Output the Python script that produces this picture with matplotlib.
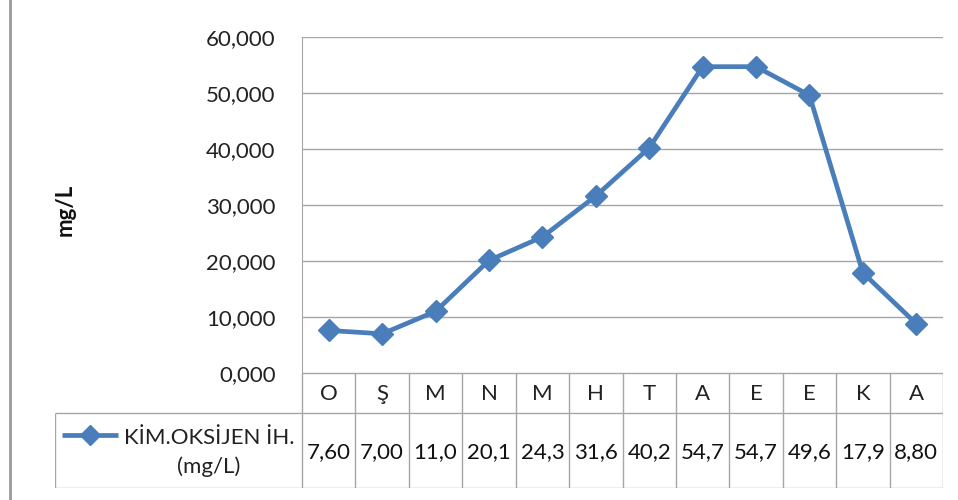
import matplotlib
matplotlib.use("Agg")
import matplotlib.pyplot as plt
from matplotlib.lines import Line2D

plt.rcParams['font.family'] = ['Lato', 'DejaVu Sans']

months = ["O", "Ş", "M", "N", "M", "H", "T", "A", "E", "E", "K", "A"]
values = [7.6, 7.0, 11.0, 20.1, 24.3, 31.6, 40.2, 54.7, 54.7, 49.6, 17.9, 8.8]
table_labels = ["7,60", "7,00", "11,0", "20,1", "24,3", "31,6", "40,2", "54,7", "54,7", "49,6", "17,9", "8,80"]
yticks = [0, 10, 20, 30, 40, 50, 60]
ytick_labels = ["0,000", "10,000", "20,000", "30,000", "40,000", "50,000", "60,000"]
series_name = "KİM.OKSİJEN İH.\n(mg/L)"
ylabel = "mg/L"

W, H = 958, 500
BLUE = "#4a7ebb"
GRID = "#a6a6a6"
FS = 16
fig = plt.figure(figsize=(W / 100, H / 100), dpi=100)

px_l, px_r, px_t, px_b = 302, 943, 37, 373
ax = fig.add_axes([px_l / W, 1 - px_b / H, (px_r - px_l) / W, (px_b - px_t) / H])
n = len(values)
x = list(range(n))
ax.plot(x, values, color=BLUE, lw=3.4, marker="D", markersize=11, zorder=3, clip_on=False)
ax.set_xlim(-0.5, n - 0.5)
ax.set_ylim(0, 60)
ax.set_yticks(yticks)
ax.set_yticklabels(ytick_labels, fontsize=FS, color="#222222")
ax.set_xticks([])
ax.yaxis.grid(True, color=GRID, lw=1)
ax.set_axisbelow(True)
ax.tick_params(axis="y", length=0, pad=19)
for s in ["top", "right", "bottom"]:
    ax.spines[s].set_visible(False)
ax.spines["left"].set_color(GRID)

# table axes
t_l, t_r, t_t, t_b = 55, 943, 373, 488
tax = fig.add_axes([t_l / W, 1 - t_b / H, (t_r - t_l) / W, (t_b - t_t) / H])
colw = (px_r - px_l) / n
x0 = -0.5 - (px_l - t_l) / colw
tax.set_xlim(x0, n - 0.5)
tax.set_ylim(t_b - t_t, 0)
tax.axis("off")
mid = 413 - t_t
bot = t_b - t_t
lk = dict(color=GRID, lw=1, solid_capstyle="butt")
tax.plot([-0.5, n - 0.5], [0, 0], **lk)
tax.plot([x0, n - 0.5], [mid, mid], **lk)
tax.plot([x0, n - 0.5], [bot, bot], **lk)
tax.plot([x0, x0], [mid, bot], **lk)
for i in range(n + 1):
    tax.plot([i - 0.5, i - 0.5], [0, bot], **lk)
for i in range(n):
    tax.text(i, mid / 2 + 1, months[i], ha="center", va="center", fontsize=FS, color="#222222")
    tax.text(i, (mid + bot) / 2 + 2, table_labels[i], ha="center", va="center", fontsize=FS, color="#111111")

# legend key
def px2x(p):
    return x0 + (p - t_l) / colw
tax.plot([px2x(62), px2x(118)], [62, 62], color=BLUE, lw=3.4, solid_capstyle="butt")
tax.plot([px2x(90)], [62], color=BLUE, marker="D", markersize=10)
tax.text(px2x(209), (mid + bot) / 2 + 2, series_name, ha="center", va="center",
         fontsize=FS, color="#222222", linespacing=1.45)

fig.text(65 / W, 1 - 210 / H, ylabel, rotation=90, ha="center", va="center",
         fontsize=FS, fontweight="bold", color="#111111")

fig.add_artist(Line2D([10 / W, 10 / W], [0, 1], color="#999999", lw=2))

fig.savefig("out.png", dpi=100)
